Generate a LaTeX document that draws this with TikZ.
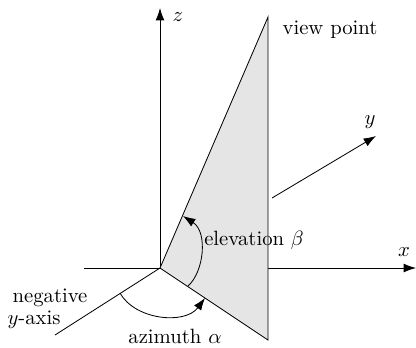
\documentclass[tikz,border=0pt]{standalone}
\usetikzlibrary{arrows.meta}
\begin{document}
\begin{tikzpicture}[
    x=0.017cm, y=-0.017cm,
    eixo/.style={-{Latex[length=2.1mm,width=1.5mm]}},
    plano/.style={draw,fill=gray!20},
    angulo/.style={-{Latex[length=2.1mm,width=1.5mm]}},
    rotulo/.style={inner sep=1pt}
]
\useasboundingbox (0,0) rectangle (416,347);
\coordinate (o) at (160,268);
\coordinate (ztip) at (160,8);
\coordinate (xbeg) at (84,268);
\coordinate (xtip) at (416,268);
\coordinate (ybeg) at (272,198);
\coordinate (ytip) at (376,136);
\coordinate (negy) at (55,335);
\coordinate (vp) at (268,17);
\coordinate (az) at (268,340);

\draw[eixo] (xbeg) -- (xtip);
\draw[eixo] (o) -- (ztip);
\draw (o) -- (negy);
\draw[plano] (o) -- (vp) -- (az) -- cycle;
\draw[eixo] (ybeg) -- (ytip);

\coordinate (a1) at (120,293);
\coordinate (a2) at (205,298);
\coordinate (e1) at (188,286);
\coordinate (e2) at (183,216);
\draw[angulo] (a1) .. controls (135,320) and (185,325) .. (a2);
\draw[angulo] (e1) .. controls (204,272) and (208,232) .. (e2);

\node[rotulo] (lz) at (178,17) {$z$};
\node[rotulo] (lx) at (404,252) {$x$};
\node[rotulo] (ly) at (370,122) {$y$};
\node[rotulo] (lvp) at (330,30) {view point};
\node[rotulo] (lel) at (254,240) {elevation $\beta$};
\node[rotulo] (lneg) at (50,298) {negative};
\node[rotulo] (lyax) at (34,320) {$y$-axis};
\node[rotulo] (laz) at (175,336) {azimuth $\alpha$};
\end{tikzpicture}
\end{document}
